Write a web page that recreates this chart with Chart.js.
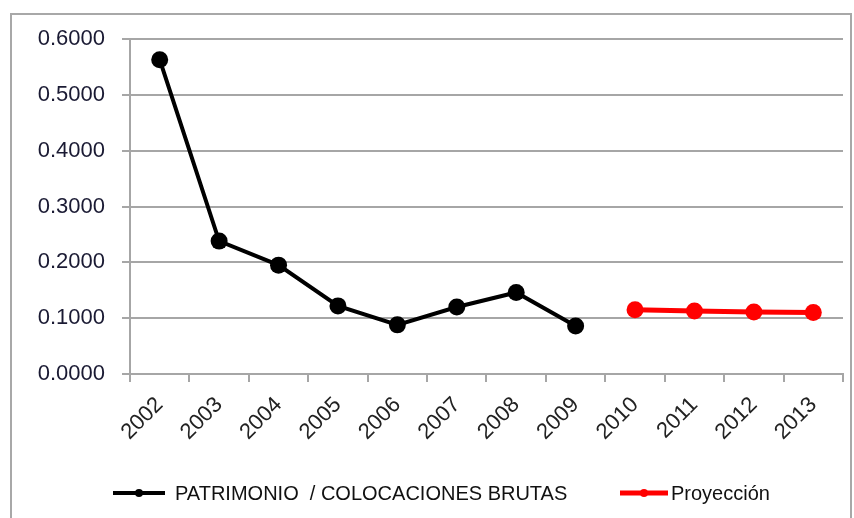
<!DOCTYPE html>
<html>
<head>
<meta charset="utf-8">
<script src="https://cdn.jsdelivr.net/npm/chart.js@4"></script>
<style>
  html, body { margin: 0; padding: 0; background: #fff; }
  #wrap { width: 854px; height: 518px; }
</style>
</head>
<body>
<div id="wrap"><canvas id="chart" width="854" height="518"></canvas></div>
<script>
// Data
const years = ['2002', '2003', '2004', '2005', '2006', '2007', '2008', '2009', '2010', '2011', '2012', '2013'];
const patrimonio = [0.563, 0.238, 0.195, 0.122, 0.088, 0.120, 0.146, 0.086, null, null, null, null];
const proyeccion = [null, null, null, null, null, null, null, null, 0.115, 0.113, 0.111, 0.110];
const yTicks = [0, 0.1, 0.2, 0.3, 0.4, 0.5, 0.6];
const legendNames = ['PATRIMONIO  / COLOCACIONES BRUTAS', 'Proyección'];

const gridGray = '#a6a6a6';

// frame round the whole chart + legend drawn at the bottom
const framePlugin = {
    id: 'frame',
    beforeDraw(chart) {
        const ctx = chart.ctx;
        ctx.save();
        ctx.strokeStyle = '#a8a8a8';
        ctx.lineWidth = 2;
        ctx.strokeRect(11, 14, 840, 520);
        ctx.restore();
    },
    afterDraw(chart) {
        const ctx = chart.ctx;
        const items = [
            { x: 113, w: 52, color: '#000000', textX: 175, lw: 4 },
            { x: 620, w: 48, color: '#ff0000', textX: 671, lw: 5 }
        ];
        const y = 493;
        ctx.save();
        ctx.font = '20px "Liberation Sans", Arial, sans-serif';
        ctx.textBaseline = 'middle';
        items.forEach((it, i) => {
            ctx.strokeStyle = it.color;
            ctx.lineWidth = it.lw;
            ctx.beginPath();
            ctx.moveTo(it.x, y);
            ctx.lineTo(it.x + it.w, y);
            ctx.stroke();
            ctx.fillStyle = it.color;
            ctx.beginPath();
            ctx.arc(it.x + it.w / 2, y, 4, 0, Math.PI * 2);
            ctx.fill();
            ctx.fillStyle = '#111';
            ctx.fillText(legendNames[i], it.textX, y + 1);
        });
        ctx.restore();
    }
};

const ctx = document.getElementById('chart').getContext('2d');
const chart = new Chart(ctx, {
    type: 'line',
    data: {
        labels: years,
        datasets: [{
            label: legendNames[0],
            data: patrimonio,
            borderColor: '#000000',
            backgroundColor: '#000000',
            borderWidth: 4,
            pointRadius: 8.5,
            pointHoverRadius: 8.5,
            pointBorderWidth: 0,
            tension: 0
        }, {
            label: legendNames[1],
            data: proyeccion,
            borderColor: '#ff0000',
            backgroundColor: '#ff0000',
            borderWidth: 5,
            pointRadius: 8.5,
            pointHoverRadius: 8.5,
            pointBorderWidth: 0,
            tension: 0
        }]
    },
    options: {
        responsive: false,
        animation: false,
        devicePixelRatio: 1,
        layout: { padding: { top: 39, right: 11, left: 0, bottom: 0 } },
        plugins: { legend: { display: false }, tooltip: { enabled: false } },
        scales: {
            x: {
                offset: true,
                grid: { offset: true, drawOnChartArea: false, drawTicks: true, tickLength: 8, color: gridGray, lineWidth: 2 },
                border: { color: gridGray, width: 2 },
                ticks: {
                    color: '#222',
                    font: { family: '"Liberation Sans", Arial, sans-serif', size: 22 },
                    minRotation: 45,
                    maxRotation: 45,
                    padding: 10,
                    autoSkip: false
                },
                afterFit(scale) { scale.height = 144; }
            },
            y: {
                min: 0,
                max: 0.6,
                afterBuildTicks(scale) { scale.ticks = yTicks.map(v => ({ value: v })); },
                grid: { color: gridGray, lineWidth: 2, tickLength: 8 },
                border: { color: gridGray, width: 2 },
                ticks: {
                    color: '#1a1a33',
                    font: { family: '"Liberation Sans", Arial, sans-serif', size: 22 },
                    padding: 17,
                    callback: v => Number(v).toFixed(4)
                },
                afterFit(scale) { scale.width = 130; }
            }
        }
    },
    plugins: [framePlugin]
});
</script>
</body>
</html>
